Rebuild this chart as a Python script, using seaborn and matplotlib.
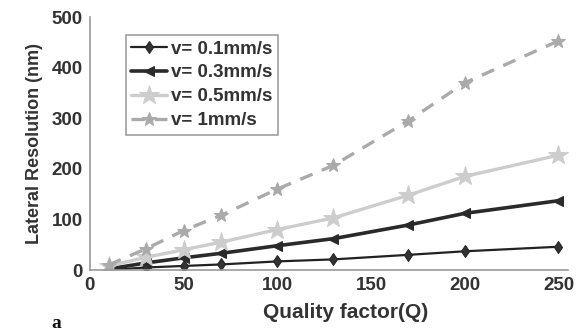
import matplotlib
matplotlib.use("Agg")
import matplotlib.pyplot as plt
import seaborn as sns
import pandas as pd

# values
q = [10, 30, 50, 70, 100, 130, 170, 200, 250]
v01 = [0, 5, 8, 11, 17, 21, 30, 37, 46]
v03 = [2, 14, 24, 33, 48, 62, 89, 112, 137]
v05 = [8, 25, 40, 55, 80, 103, 148, 185, 227]
v1 = [10, 42, 78, 108, 160, 207, 295, 370, 453]
labels = ["v= 0.1mm/s", "v= 0.3mm/s", "v= 0.5mm/s", "v= 1mm/s"]

sns.set_style("white")
plt.rcParams["font.family"] = ["Liberation Sans", "DejaVu Sans"]
plt.rcParams["font.weight"] = "bold"

fig = plt.figure(figsize=(5.83, 3.35), dpi=100)
ax = fig.add_axes([0.154, 0.194, 0.82, 0.755])

styles = [
    dict(color="#222222", lw=1.6, marker="d", ms=6, ls="-", mfc="#333333"),
    dict(color="#2a2a2a", lw=2.6, marker="<", ms=7, ls="-", mfc="#2a2a2a"),
    dict(color="#cdcdcd", lw=2.4, marker="*", ms=15, ls="-", mfc="#cdcdcd"),
    dict(color="#aaaaaa", lw=2.4, marker="*", ms=10, ls=(0, (4, 3)), mfc="#aaaaaa"),
]

for vals, lab, st in zip([v01, v03, v05, v1], labels, styles):
    df = pd.DataFrame({"Q": q, "R": vals})
    sns.lineplot(data=df, x="Q", y="R", ax=ax, label=lab,
                 color=st["color"], linewidth=st["lw"], marker=st["marker"],
                 markersize=st["ms"], linestyle=st["ls"],
                 markerfacecolor=st["mfc"], markeredgecolor=st["color"])

ax.set_xlim(0, 255)
ax.set_ylim(0, 500)
ax.set_xticks([0, 50, 100, 150, 200, 250])
ax.set_yticks([0, 100, 200, 300, 400, 500])
for s in ["top", "right"]:
    ax.spines[s].set_visible(False)
for s in ["left", "bottom"]:
    ax.spines[s].set_color("#999999")
    ax.spines[s].set_linewidth(1.2)
ax.tick_params(direction="in", length=4, color="#999999", labelsize=13.5,
               labelcolor="#333333", pad=5)
for t in ax.get_xticklabels() + ax.get_yticklabels():
    t.set_fontweight("bold")
ax.set_xlabel("Quality factor(Q)", fontsize=15, fontweight="bold", color="#333333")
ax.xaxis.set_label_coords(0.535, -0.13)
ax.set_ylabel("Lateral Resolution (nm)", fontsize=13, fontweight="bold", color="#333333", labelpad=6)

leg = ax.legend(loc="upper left", bbox_to_anchor=(0.075, 0.93), fontsize=13.5,
                frameon=True, fancybox=False, borderpad=0.3, labelspacing=0.36,
                handlelength=1.9, handletextpad=0.2, borderaxespad=0)
leg.get_frame().set_edgecolor("#888888")
leg.get_frame().set_linewidth(1.2)
for t in leg.get_texts():
    t.set_color("#333333")
    t.set_fontweight("bold")

fig.text(0.088, 0.02, "a", family=["Liberation Serif", "DejaVu Serif"],
         fontsize=14, fontweight="bold", color="#111111")

fig.savefig("out.png", dpi=100)
